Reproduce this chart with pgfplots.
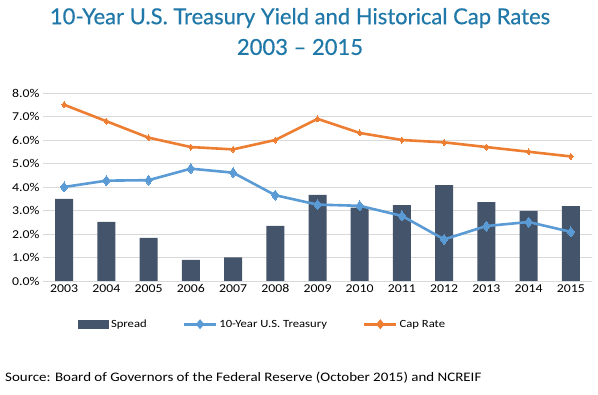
\documentclass[border=0pt]{standalone}
\usepackage{pgfplots}
\pgfplotsset{compat=1.18}
\usepackage{fontspec}
\setmainfont{Carlito}[FakeStretch=1.15]
\newfontfamily\titlefont{Lato}[FakeBold=0.5]
\definecolor{spreadc}{HTML}{44546A}
\definecolor{treasc}{HTML}{5B9BD5}
\definecolor{capc}{HTML}{ED7D31}
\definecolor{titleblue}{HTML}{1F78A8}
\definecolor{gridc}{HTML}{D9D9D9}
\pgfplotstableread{
x spread treas cap
0 3.49 4.00 7.50
1 2.52 4.27 6.80
2 1.83 4.29 6.10
3 0.90 4.78 5.70
4 1.00 4.61 5.60
5 2.35 3.65 6.00
6 3.66 3.25 6.90
7 3.12 3.20 6.30
8 3.23 2.77 6.00
9 4.08 1.77 5.90
10 3.36 2.34 5.70
11 2.98 2.51 5.50
12 3.19 2.09 5.30
}\datatable
\begin{document}
\begin{tikzpicture}
\path[use as bounding box] (0pt,0pt) rectangle (598pt,395pt);
\node[font=\titlefont\fontsize{22}{26}\selectfont, text=titleblue] at (300pt,377pt) {10-Year U.S. Treasury Yield and Historical Cap Rates};
\node[font=\titlefont\fontsize{22}{26}\selectfont, text=titleblue] at (300pt,348pt) {2003 \textendash{} 2015};
\node[anchor=west, font=\fontsize{13}{16}\selectfont, inner sep=0pt] at (5pt,17pt) {Source: Board of Governors of the Federal Reserve (October 2015) and NCREIF};
\begin{axis}[
  at={(43pt,114pt)}, anchor=south west,
  scale only axis, width=549pt, height=188pt,
  xmin=-0.5, xmax=12.5, ymin=0, ymax=8,
  xtick={0,...,12},
  xticklabels={2003,2004,2005,2006,2007,2008,2009,2010,2011,2012,2013,2014,2015},
  ytick={0,...,8},
  yticklabel={\pgfmathprintnumber[fixed,fixed zerofill,precision=1]{\tick}\%},
  /pgf/number format/assume math mode=true,
  ticklabel style={font=\fontsize{12}{14}\selectfont},
  axis line style={draw=none},
  tick style={draw=none},
  ymajorgrids, grid style={gridc, line width=0.9pt},
  legend style={at={(0.40,-0.23)}, anchor=center, draw=none, fill=none,
    legend columns=3, font=\fontsize{11}{13}\selectfont,
    /tikz/every even column/.append style={column sep=34pt}},
  clip=false,
]
\addplot[fill=spreadc, draw=none, ybar, bar width=18pt,
  legend image code/.code={\fill[spreadc] (0pt,-4.5pt) rectangle (31pt,4.5pt);}]
  table[x=x, y=spread] {\datatable};
\addlegendentry{Spread}
\addplot[treasc, line width=2.6pt, mark=diamond*, mark size=5pt, mark options={line width=0pt},
  legend image code/.code={\draw[treasc, line width=2.6pt] (0pt,0pt) -- (32pt,0pt); \fill[treasc] (16pt,0pt) +(0,3pt) -- +(2.5pt,0) -- +(0,-3pt) -- +(-2.5pt,0) -- cycle;}]
  table[x=x, y=treas] {\datatable};
\addlegendentry{10-Year U.S. Treasury}
\addplot[capc, line width=2.6pt, mark=diamond*, mark size=3pt, mark options={line width=0pt},
  legend image code/.code={\draw[capc, line width=2.6pt] (0pt,0pt) -- (32pt,0pt); \fill[capc] (16pt,0pt) +(0,3pt) -- +(2.5pt,0) -- +(0,-3pt) -- +(-2.5pt,0) -- cycle;}]
  table[x=x, y=cap] {\datatable};
\addlegendentry{Cap Rate}
\end{axis}
\end{tikzpicture}
\end{document}
